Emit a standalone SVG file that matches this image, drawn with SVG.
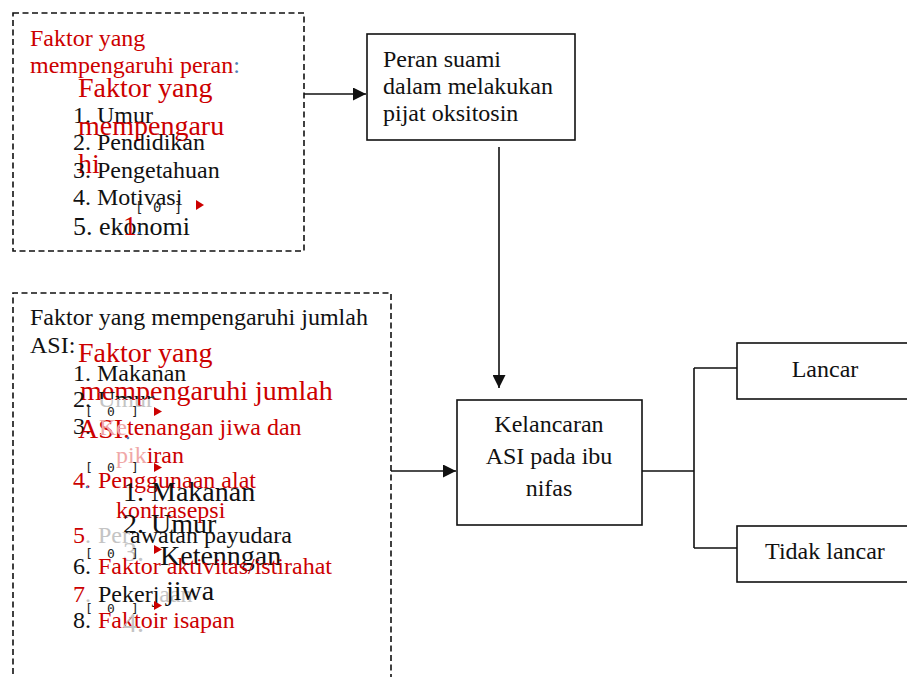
<svg xmlns="http://www.w3.org/2000/svg" width="907" height="677" viewBox="0 0 907 677">
<defs>
<style>
text{font-family:"Liberation Serif","Times New Roman",serif;font-size:24px;fill:#111}
.red{fill:#cc0000}
.big{font-size:28px}
.gray{fill:#c4c4c4}
.pink{fill:#f0a8a8}
.blue{fill:#4f7fb8}
.mk{font-family:"DejaVu Sans Mono","Liberation Mono",monospace;font-size:13px;fill:#222}
.box{fill:#fff;stroke:#111;stroke-width:1.6}
.dash{fill:none;stroke:#111;stroke-width:1.6;stroke-dasharray:6 3.5}
.line{fill:none;stroke:#111;stroke-width:1.6}
.tri{fill:#cc0000}
</style>
<marker id="ah" markerUnits="userSpaceOnUse" markerWidth="13" markerHeight="13" refX="13" refY="6.5" orient="auto">
<path d="M0,0 L13,6.5 L0,13 z" fill="#111"/>
</marker>
<clipPath id="topclip"><rect x="90" y="380" width="80" height="19"/></clipPath>
</defs>
<rect width="907" height="677" fill="#fff"/>

<g id="connectors">
<path class="line" d="M304,94 H366" marker-end="url(#ah)"/>
<path class="line" d="M499,147 V388" marker-end="url(#ah)"/>
<path class="line" d="M391,471 H456" marker-end="url(#ah)"/>
<path class="line" d="M642,471 H694 M694,368 V548 M694,368 H737 M694,548 H737"/>
</g>

<g id="faktor-peran">
<rect class="dash" x="13" y="13" width="291" height="238"/>
<text class="red" x="30" y="46">Faktor yang</text>
<text x="30" y="73"><tspan class="red">mempengaruhi peran</tspan><tspan class="blue">:</tspan></text>
<text class="red big" x="78" y="97">Faktor yang</text>
<text x="73" y="123">1. Umur</text>
<text class="red big" x="78" y="135">mempengaru</text>
<text x="73" y="150">2. Pendidikan</text>
<text class="red big" x="78" y="173">hi</text>
<text x="73" y="178">3. Pengetahuan</text>
<text x="73" y="205">4. Motivasi</text>
<text class="mk" style="font-size:14px" y="212"><tspan x="135">[</tspan><tspan x="153">0</tspan><tspan x="174">]</tspan></text>
<polygon class="tri" points="196,200 204,205 196,210"/>
<text x="73" y="235" style="font-size:26px">5. ekonomi</text>
<text class="red big" x="123" y="235">1</text>
<circle class="blue" cx="139" cy="233" r="1.3" style="fill:#4f7fb8"/>
</g>

<g id="peran">
<rect class="box" x="367" y="34" width="208" height="106"/>
<text x="383" y="67">Peran suami</text>
<text x="383" y="94">dalam melakukan</text>
<text x="383" y="121">pijat oksitosin</text>
</g>

<g id="faktor-asi">
<path class="dash" d="M391,680 V293 H13 V680"/>
<text x="30" y="325">Faktor yang mempengaruhi jumlah</text>
<text x="30" y="353">ASI:</text>
<text class="red big" x="78" y="362">Faktor yang</text>
<text x="73" y="381">1. Makanan</text>
<text class="red big" x="80" y="400">mempengaruhi jumlah</text>
<text x="73" y="407">2.</text>
<text class="gray" x="98" y="407">Umur</text>
<text x="98" y="407" clip-path="url(#topclip)">Umur</text>
<text class="mk" y="416"><tspan x="85">[</tspan><tspan x="107">0</tspan><tspan x="131">]</tspan></text>
<polygon class="tri" points="154,407 162,411.5 154,416"/>
<text x="73" y="434">3.</text>
<text class="red big" x="78" y="438">ASI.</text>
<text x="99" y="435"><tspan class="pink">Ke</tspan><tspan class="red">tenangan jiwa dan</tspan></text>
<circle cx="128" cy="438" r="1.3" fill="#4f7fb8"/>
<text x="116" y="463"><tspan class="pink">pik</tspan><tspan class="red">iran</tspan></text>
<text class="mk" y="472"><tspan x="85">[</tspan><tspan x="107">0</tspan><tspan x="131">]</tspan></text>
<polygon class="tri" points="154,463 162,467.5 154,472"/>
<text class="red" x="73" y="488">4.</text>
<circle cx="87" cy="487" r="1.3" fill="#4f7fb8"/>
<text class="red" x="98" y="488">Penggunaan alat</text>
<text class="big" x="123" y="501">1. Makanan</text>
<text class="red" x="116" y="518">kontrasepsi</text>
<text class="big" x="123" y="533">2. Umur</text>
<text x="73" y="543"><tspan class="red">5</tspan><tspan class="gray">.</tspan></text>
<text x="98" y="543"><tspan class="gray">Per</tspan><tspan>awatan payudara</tspan></text>
<text class="big gray" x="123" y="561">3.</text>
<text class="mk" y="558"><tspan x="85">[</tspan><tspan x="107">0</tspan><tspan x="131">]</tspan></text>
<polygon class="tri" points="154,545 162,549.5 154,554"/>
<text class="big" x="160" y="565">Ketenngan</text>
<text x="73" y="574">6.</text>
<text class="red" x="98" y="574">Faktor aktivitas/istirahat</text>
<text x="73" y="602"><tspan class="red">7</tspan><tspan class="gray">.</tspan></text>
<text x="98" y="602"><tspan>Pekerj</tspan><tspan class="gray">aan</tspan></text>
<text class="big" x="166" y="600">jiwa</text>
<text class="mk" y="613"><tspan x="85">[</tspan><tspan x="107">0</tspan><tspan x="131">]</tspan></text>
<polygon class="tri" points="154,601 162,605.5 154,610"/>
<text x="73" y="628">8.</text>
<text class="red" x="98" y="628">Faktoir isapan</text>
<text class="big gray" x="123" y="632">4.</text>
</g>

<g id="kelancaran">
<rect class="box" x="457" y="400" width="185" height="125"/>
<text x="549" y="432" text-anchor="middle">Kelancaran</text>
<text x="549" y="464" text-anchor="middle">ASI pada ibu</text>
<text x="549" y="496" text-anchor="middle">nifas</text>
</g>

<g id="lancar">
<rect class="box" x="737" y="343" width="175" height="56"/>
<text x="825" y="377" text-anchor="middle">Lancar</text>
</g>

<g id="tidak-lancar">
<rect class="box" x="737" y="526" width="175" height="56"/>
<text x="825" y="559" text-anchor="middle">Tidak lancar</text>
</g>
</svg>
